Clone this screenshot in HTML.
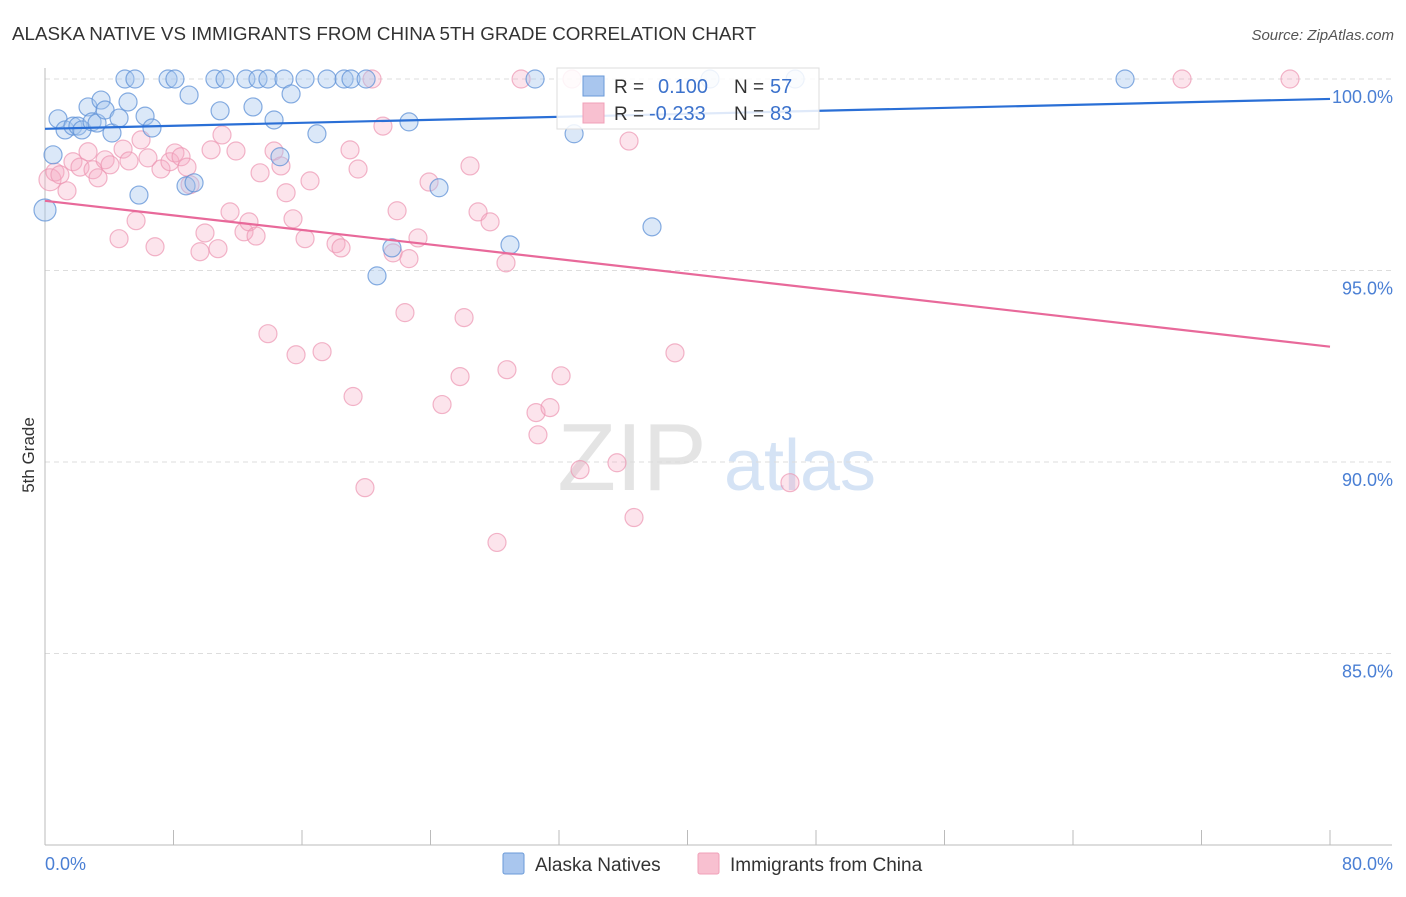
<!DOCTYPE html>
<html><head><meta charset="utf-8">
<style>
body{margin:0;background:#fff;font-family:"Liberation Sans",sans-serif;}
svg text{font-family:"Liberation Sans",sans-serif;}
</style></head>
<body>
<svg id="chart" width="1406" height="892" viewBox="0 0 1406 892">
<text x="12" y="40" font-size="18.8" fill="#333">ALASKA NATIVE VS IMMIGRANTS FROM CHINA 5TH GRADE CORRELATION CHART</text>
<text x="1394" y="40" font-size="15" fill="#555" font-style="italic" text-anchor="end">Source: ZipAtlas.com</text>
<text x="632" y="490" font-size="96" fill="#e4e4e4" font-family="Liberation Serif, serif" text-anchor="middle">ZIP</text>
<text x="800" y="490" font-size="72" fill="#d5e3f5" text-anchor="middle">atlas</text>
<g id="grid"></g>
<g id="axes"></g>
<g id="pts"></g>
<g id="trend"></g>
<text transform="translate(34,455) rotate(-90)" font-size="17" fill="#333" text-anchor="middle">5th Grade</text>
<text x="45" y="870" font-size="18" fill="#4a7fd4">0.0%</text>
<text x="1393" y="870" font-size="18" fill="#4a7fd4" text-anchor="end">80.0%</text>
<g>
<rect x="557" y="68" width="262" height="61" fill="#fff" fill-opacity="0.85" stroke="#ddd"/>
<rect x="583" y="76" width="21" height="20" fill="#a9c6ee" stroke="#6a9ad8"/>
<rect x="583" y="103" width="21" height="20" fill="#f8c0d0" stroke="#f0a0b8"/>
<text x="614" y="93" font-size="19" fill="#333">R = </text><text x="658" y="93" font-size="20" fill="#3c72cc">0.100</text>
<text x="734" y="93" font-size="19" fill="#333">N = </text><text x="770" y="93" font-size="20" fill="#3c72cc">57</text>
<text x="614" y="120" font-size="19" fill="#333">R = </text><text x="649" y="120" font-size="20" fill="#3c72cc">-0.233</text>
<text x="734" y="120" font-size="19" fill="#333">N = </text><text x="770" y="120" font-size="20" fill="#3c72cc">83</text>
</g>
<g>
<rect x="503" y="853" width="21" height="21" fill="#a9c6ee" stroke="#6a9ad8" rx="2"/>
<text x="535" y="871" font-size="19" fill="#333">Alaska Natives</text>
<rect x="698" y="853" width="21" height="21" fill="#f8c0d0" stroke="#f0a0b8" rx="2"/>
<text x="730" y="871" font-size="19" fill="#333">Immigrants from China</text>
</g>
</svg>
<script>
const blueX=[0,0.50,0.81,1.25,1.74,2.05,2.30,2.68,2.93,3.24,3.49,3.74,4.17,4.61,4.98,5.17,5.60,5.85,6.23,6.66,7.66,8.09,8.78,8.97,9.28,10.58,10.90,11.21,12.51,12.95,13.26,13.88,14.26,14.63,14.88,15.32,16.19,16.93,17.56,18.62,19.05,19.99,20.67,21.60,22.66,24.53,28.95,30.51,32.94,37.79,41.40,46.70,67.24];
const blueY=[96.58,98.02,98.96,98.67,98.77,98.77,98.67,99.27,98.88,98.85,99.45,99.19,98.59,98.98,100,99.40,100,96.97,99.03,98.72,100,100,97.21,99.58,97.29,100,99.17,100,100,99.27,100,100,98.93,97.97,100,99.61,100,98.57,100,100,100,100,94.86,95.59,98.88,97.16,95.67,100,98.57,96.14,100,100,100];
const pinkX=[0.31,0.62,0.93,1.37,1.74,2.18,2.68,2.99,3.30,3.74,4.05,4.61,4.86,5.23,5.67,5.98,6.41,6.85,7.22,7.78,8.09,8.47,8.84,9.03,9.65,9.96,10.34,10.77,11.02,11.52,11.89,12.39,12.70,13.14,13.39,13.88,14.26,14.69,15.01,15.44,15.63,16.19,16.50,17.25,18.12,18.43,18.99,19.18,19.49,19.92,20.36,21.04,21.67,21.92,22.41,22.66,23.22,23.91,24.72,25.84,26.09,26.46,26.96,27.71,28.14,28.70,28.76,29.64,30.57,30.69,31.44,32.13,32.81,33.31,35.61,36.36,36.67,39.22,46.38,70.79,77.51];
const pinkY=[97.37,97.57,97.50,97.08,97.84,97.70,98.10,97.63,97.42,97.89,97.76,95.83,98.17,97.86,96.30,98.41,97.94,95.62,97.65,97.84,98.07,97.97,97.70,97.24,95.49,95.98,98.15,95.57,98.54,96.53,98.12,96.01,96.27,95.90,97.55,93.35,98.12,97.73,97.03,96.35,92.80,95.83,97.34,92.88,95.70,95.59,98.15,91.71,97.65,89.33,100,98.77,95.46,96.56,93.90,95.31,95.85,97.31,91.50,92.23,93.77,97.73,96.53,96.27,87.90,95.20,92.41,100,91.29,90.71,91.42,92.25,100,89.80,89.98,98.38,88.55,92.85,89.46,100,100];
const yTicks=[100,95,90,85];
const yTickLabels=["100.0%","95.0%","90.0%","85.0%"];
const xTicks=[0,8,16,24,32,40,48,56,64,72,80];
const blueTrend=[98.70,99.48];
const pinkTrend=[96.82,93.01];
const trendX=[0,80];

const X0=45,X1=1330,YT=79,YB=845;
const sx=v=>X0+(v/80)*(X1-X0);
const sy=v=>YT+(100-v)/20*(YB-YT);
const NS='http://www.w3.org/2000/svg';
function mk(tag,attrs,parent){const e=document.createElementNS(NS,tag);for(const k in attrs)e.setAttribute(k,attrs[k]);parent.appendChild(e);return e;}
const grid=document.getElementById('grid'),axes=document.getElementById('axes'),pts=document.getElementById('pts'),trend=document.getElementById('trend');
yTicks.forEach((t,i)=>{
 const l=mk('line',{x1:X0,x2:1392,y1:sy(t),y2:sy(t),stroke:'#ddd','stroke-dasharray':'5,4'},grid);
 
 
 const tx=mk('text',{x:1393,y:sy(t)+24,'font-size':18,fill:'#4a7fd4','text-anchor':'end'},grid);
 tx.textContent=yTickLabels[i];
 
 
});
const ya=mk('line',{x1:X0,x2:X0,y1:68,y2:YB,stroke:'#bbb'},axes);


const xa=mk('line',{x1:X0,x2:1392,y1:YB,y2:YB,stroke:'#bbb'},axes);


xTicks.forEach(t=>{
 const l=mk('line',{x1:sx(t),x2:sx(t),y1:830,y2:YB,stroke:'#bbb'},axes);
 
 
});
function drawPts(xs,ys,fill,stroke,name){
 xs.forEach((x,i)=>{
  const c=mk('circle',{cx:sx(x),cy:sy(ys[i]),r:i===0?11:9,fill:fill,stroke:stroke,'stroke-width':1.2},pts);
  
  
 });
}
drawPts(pinkX,pinkY,'rgba(246,170,195,0.32)','rgba(236,150,178,0.7)','point-china');
drawPts(blueX,blueY,'rgba(165,198,238,0.4)','rgba(95,145,215,0.75)','point-alaska');
const bt=mk('line',{x1:sx(trendX[0]),x2:sx(trendX[1]),y1:sy(blueTrend[0]),y2:sy(blueTrend[1]),stroke:'#2a6fd6','stroke-width':2.2},trend);


const pt=mk('line',{x1:sx(trendX[0]),x2:sx(trendX[1]),y1:sy(pinkTrend[0]),y2:sy(pinkTrend[1]),stroke:'#e8699a','stroke-width':2.2},trend);


</script>
</body></html>
